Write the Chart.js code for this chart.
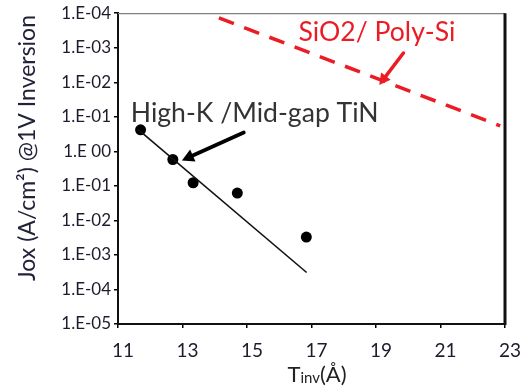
<!DOCTYPE html>
<html><head><meta charset="utf-8">
<script src="https://cdn.jsdelivr.net/npm/chart.js@4/dist/chart.umd.min.js"></script>
<style>html,body{margin:0;padding:0;background:#fff}#wrap{width:530px;height:387px}#c{filter:blur(0.45px)}</style>
</head><body><div id="wrap"><canvas id="c" width="530" height="387"></canvas></div>
<script>
// ---- data ----
const xTicks = [11, 13, 15, 17, 19, 21, 23];
const yTickValues = [1e-5, 1e-4, 1e-3, 1e-2, 1e-1, 1e0, 1e1, 1e2, 1e3, 1e4];
const yTickLabels = ["1.E-05","1.E-04","1.E-03","1.E-02","1.E-01","1.E 00","1.E-01","1.E-02","1.E-03","1.E-04"];
const highKTinv = [11.7, 12.7, 13.33, 14.7, 16.84];
const highKJox  = [4.2, 0.58, 0.123, 0.062, 0.0033];
const highKFitTinv = [11.62, 16.85];
const highKFitJox  = [4.3, 3.1e-4];
const sio2Tinv = [14.13, 22.85];
const sio2Jox  = [7300, 5.5];
const labelHighK = "High-K /Mid-gap TiN";
const labelSiO2  = "SiO2/ Poly-Si";
const yTitle = "Jox (A/cm\u00B2) @1V Inversion";

const RED = '#ec1c24';
const FONT = 'Lato';

const toPts = (xs, ys) => xs.map((v, i) => ({x: v, y: ys[i]}));

function fitSize(ctx, text, weight, target) {
  ctx.font = weight + ' 100px ' + FONT;
  return 100 * target / ctx.measureText(text).width;
}
function arrow(ctx, x0, y0, x1, y1, color, lw, head, hw) {
  const ang = Math.atan2(y1 - y0, x1 - x0);
  const bx = x1 - head * Math.cos(ang), by = y1 - head * Math.sin(ang);
  ctx.strokeStyle = color; ctx.fillStyle = color; ctx.lineWidth = lw; ctx.lineCap = 'round';
  ctx.beginPath(); ctx.moveTo(x0, y0); ctx.lineTo(bx, by); ctx.stroke();
  ctx.beginPath();
  ctx.moveTo(x1, y1);
  ctx.lineTo(bx + hw * Math.sin(ang), by - hw * Math.cos(ang));
  ctx.lineTo(bx - hw * Math.sin(ang), by + hw * Math.cos(ang));
  ctx.closePath(); ctx.fill();
}

const annot = {
  id: 'annot',
  afterDatasetsDraw(chart) {
    const {ctx, chartArea: a, scales: {x, y}} = chart;
    ctx.save();
    // frame: thin grey top, heavy right
    ctx.strokeStyle = '#808080'; ctx.lineWidth = 1.3;
    ctx.beginPath(); ctx.moveTo(a.left, a.top + 0.5); ctx.lineTo(a.right, a.top + 0.5); ctx.stroke();
    ctx.strokeStyle = '#111'; ctx.lineWidth = 3;
    ctx.beginPath(); ctx.moveTo(a.right, a.top); ctx.lineTo(a.right, a.bottom + 1); ctx.stroke();

    // SiO2 label + arrow
    let s = fitSize(ctx, labelSiO2, '400', 157);
    ctx.font = '400 ' + s + 'px ' + FONT; ctx.fillStyle = RED;
    ctx.textAlign = 'center'; ctx.textBaseline = 'middle';
    ctx.fillText(labelSiO2, x.getPixelForValue(19.03), y.getPixelForValue(2840));
    arrow(ctx, x.getPixelForValue(19.85), y.getPixelForValue(705),
               x.getPixelForValue(19.1), y.getPixelForValue(84), RED, 3.5, 11, 6);

    // High-K label + arrow
    s = fitSize(ctx, labelHighK, '400', 248);
    ctx.font = '400 ' + s + 'px ' + FONT; ctx.fillStyle = '#333';
    ctx.fillText(labelHighK, x.getPixelForValue(15.24), y.getPixelForValue(12.7));
    arrow(ctx, x.getPixelForValue(14.9), y.getPixelForValue(3.5),
               x.getPixelForValue(12.98), y.getPixelForValue(0.546), '#000', 3.8, 12, 6.5);

    // y title (rotated)
    s = fitSize(ctx, yTitle, '400', 266);
    ctx.font = '400 ' + s + 'px ' + FONT; ctx.fillStyle = '#22223a';
    ctx.translate(28, 148); ctx.rotate(-Math.PI / 2);
    ctx.fillText(yTitle, 0, 0);
    ctx.setTransform(1, 0, 0, 1, 0, 0);

    // x title: T + inv (small) + (Å)
    const big = '400 22px ' + FONT, small = '400 15px ' + FONT;
    ctx.font = big; const wT = ctx.measureText('T').width, wP = ctx.measureText('(\u00C5)').width;
    ctx.font = small; const wI = ctx.measureText('inv').width;
    let x0 = 317 - (wT + wI + wP) / 2; const base = 382;
    ctx.textAlign = 'left'; ctx.textBaseline = 'alphabetic'; ctx.fillStyle = '#222';
    ctx.font = big; ctx.fillText('T', x0, base); x0 += wT;
    ctx.font = small; ctx.fillText('inv', x0, base + 1); x0 += wI;
    ctx.font = big; ctx.fillText('(\u00C5)', x0, base);
    ctx.restore();
  }
};

new Chart(document.getElementById('c'), {
  type: 'scatter',
  data: {
    datasets: [
      {label: 'SiO2/Poly-Si', data: toPts(sio2Tinv, sio2Jox), showLine: true, borderColor: RED,
       borderWidth: 3.5, borderDash: [16, 11], pointRadius: 0, fill: false},
      {label: 'fit', data: toPts(highKFitTinv, highKFitJox), showLine: true, borderColor: '#111',
       borderWidth: 1.6, pointRadius: 0, fill: false},
      {label: 'High-K', data: toPts(highKTinv, highKJox), showLine: false,
       pointRadius: 5.5, pointBackgroundColor: '#000', pointBorderColor: '#000', pointBorderWidth: 0}
    ]
  },
  options: {
    responsive: false, animation: false, devicePixelRatio: 1,
    layout: {padding: {left: 0, top: 12, right: 25, bottom: 0}},
    plugins: {legend: {display: false}, tooltip: {enabled: false}},
    scales: {
      x: {
        type: 'linear', min: 11, max: 23,
        afterFit: s => { s.height = 63; },
        afterBuildTicks: s => { s.ticks = xTicks.map(v => ({value: v})); },
        grid: {display: true, drawOnChartArea: false, drawTicks: true, tickLength: 4, color: '#000', lineWidth: 1.5},
        border: {display: true, color: '#111', width: 2},
        ticks: {font: {family: FONT, size: 19}, color: '#1c1c2c', padding: 11, labelOffset: 5,
                maxRotation: 0, autoSkip: false, callback: (v) => String(v)}
      },
      y: {
        type: 'logarithmic', min: 1e-5, max: 1e4,
        afterFit: s => { s.width = 118; },
        afterBuildTicks: s => { s.ticks = yTickValues.map(v => ({value: v})); },
        grid: {display: true, drawOnChartArea: false, drawTicks: true, tickLength: 4, color: '#000', lineWidth: 1.5},
        border: {display: true, color: '#111', width: 2},
        ticks: {font: {family: FONT, size: 17}, color: '#1c1c2c', padding: 3, autoSkip: false,
                callback: (v, i) => yTickLabels[i]}
      }
    }
  },
  plugins: [annot]
});
</script></body></html>
